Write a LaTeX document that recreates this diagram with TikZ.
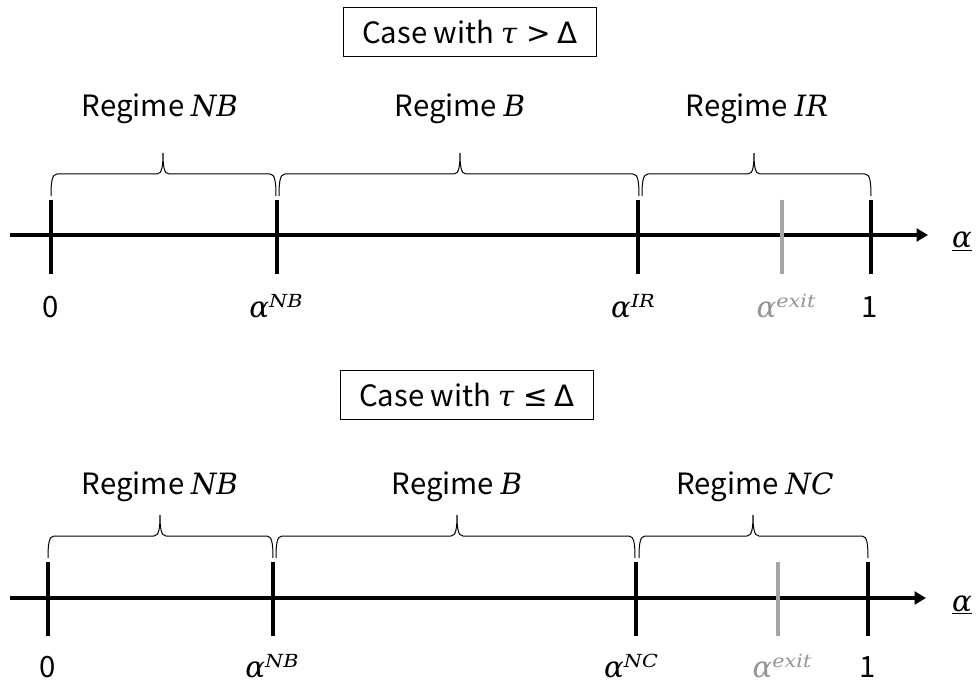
\documentclass[tikz,border=0pt]{standalone}
\usepackage{fontspec}
\usepackage{graphicx}
\setmainfont{Noto Sans CJK JP}
\newfontfamily\mif{DejaVu Serif}
\newfontfamily\symf{DejaVu Sans}
\usetikzlibrary{arrows.meta}
\definecolor{exitgrey}{HTML}{A6A6A6}
\definecolor{exittext}{HTML}{959595}
\newcommand\mi[1]{{\mif\itshape #1}}
\newcommand\supi[1]{\raisebox{7.5pt}{\scalebox{1.15}[1]{\fontsize{13.5}{13.5}\selectfont\mif\itshape #1}}}
\newcommand\regbrace[4]{%
  \draw[brc] (#1,#4+22) .. controls (#1,#4+8) and (#1+1,#4) .. (#1+6,#4)
    -- (#3-6,#4) .. controls (#3-1,#4) and (#3,#4-8) .. (#3,#4-21)
    .. controls (#3,#4-8) and (#3+1,#4) .. (#3+6,#4)
    -- (#2-6,#4) .. controls (#2-1,#4) and (#2,#4+8) .. (#2,#4+22);}
\begin{document}
\begin{tikzpicture}[x=0.75pt,y=-0.75pt,
  font=\fontsize{22}{26}\selectfont,
  tick/.style={line width=3pt},
  gtick/.style={line width=3pt,draw=exitgrey},
  axis/.style={line width=3pt,-{Triangle[length=8.5pt,width=9.5pt]}},
  casebox/.style={draw,line width=0.9pt,minimum width=190pt,minimum height=37pt,inner sep=0pt},
  lbl/.style={anchor=base,inner sep=0pt},
  brc/.style={line width=0.75pt}]
\useasboundingbox (0,0) rectangle (976,688);

% ---------- top panel ----------
\node[casebox] (caseA) at (470,32) {Case with \mi{τ}\hspace{7pt}{\symf >}\hspace{5pt}{\symf Δ}};
\node[lbl] (rA1) at (160,117) {Regime \mi{NB}};
\node[lbl] (rA2) at (460,117) {Regime \mi{B}};
\node[lbl] (rA3) at (757,117) {Regime \mi{IR}};
\regbrace{51}{276}{163}{174}
\regbrace{279}{639}{460}{174}
\regbrace{642}{871}{754}{174}
\coordinate (aS) at (10,235);
\coordinate (aE) at (928,235);
\draw[axis] (aS) -- (aE);
\draw[tick] (51,200) -- (51,274);
\draw[tick] (277,200) -- (277,274);
\draw[tick] (638,200) -- (638,274);
\draw[gtick] (782,200) -- (782,274);
\draw[tick] (871,200) -- (871,274);
\node[lbl] (lA0) at (51,318) {0};
\node[lbl] (lA1) at (276,318) {\mi{α}\supi{NB}};
\node[lbl] (lA2) at (633,318) {\mi{α}\supi{IR}};
\node[lbl,text=exittext] (lA3) at (786,318) {\mi{α}\supi{exit}};
\node[lbl] (lA4) at (870,318) {1};
\node[lbl] (xA) at (962,248) {\underline{\mi{α}}};

% ---------- bottom panel ----------
\node[casebox] (caseB) at (467,395) {Case with \mi{τ}\hspace{7pt}{\symf ≤}\hspace{5pt}{\symf Δ}};
\node[lbl] (rB1) at (160,494) {Regime \mi{NB}};
\node[lbl] (rB2) at (457,494) {Regime \mi{B}};
\node[lbl] (rB3) at (755,494) {Regime \mi{NC}};
\regbrace{48}{273}{160}{536}
\regbrace{276}{635}{457}{536}
\regbrace{639}{868}{753}{536}
\coordinate (bS) at (10,598);
\coordinate (bE) at (926,598);
\draw[axis] (bS) -- (bE);
\draw[tick] (48,562) -- (48,636);
\draw[tick] (273,562) -- (273,636);
\draw[tick] (636,562) -- (636,636);
\draw[gtick] (778,562) -- (778,636);
\draw[tick] (868,562) -- (868,636);
\node[lbl] (lB0) at (48,677) {0};
\node[lbl] (lB1) at (272,677) {\mi{α}\supi{NB}};
\node[lbl] (lB2) at (631,677) {\mi{α}\supi{NC}};
\node[lbl,text=exittext] (lB3) at (782,677) {\mi{α}\supi{exit}};
\node[lbl] (lB4) at (868,677) {1};
\node[lbl] (xB) at (962,611) {\underline{\mi{α}}};
\end{tikzpicture}
\end{document}
